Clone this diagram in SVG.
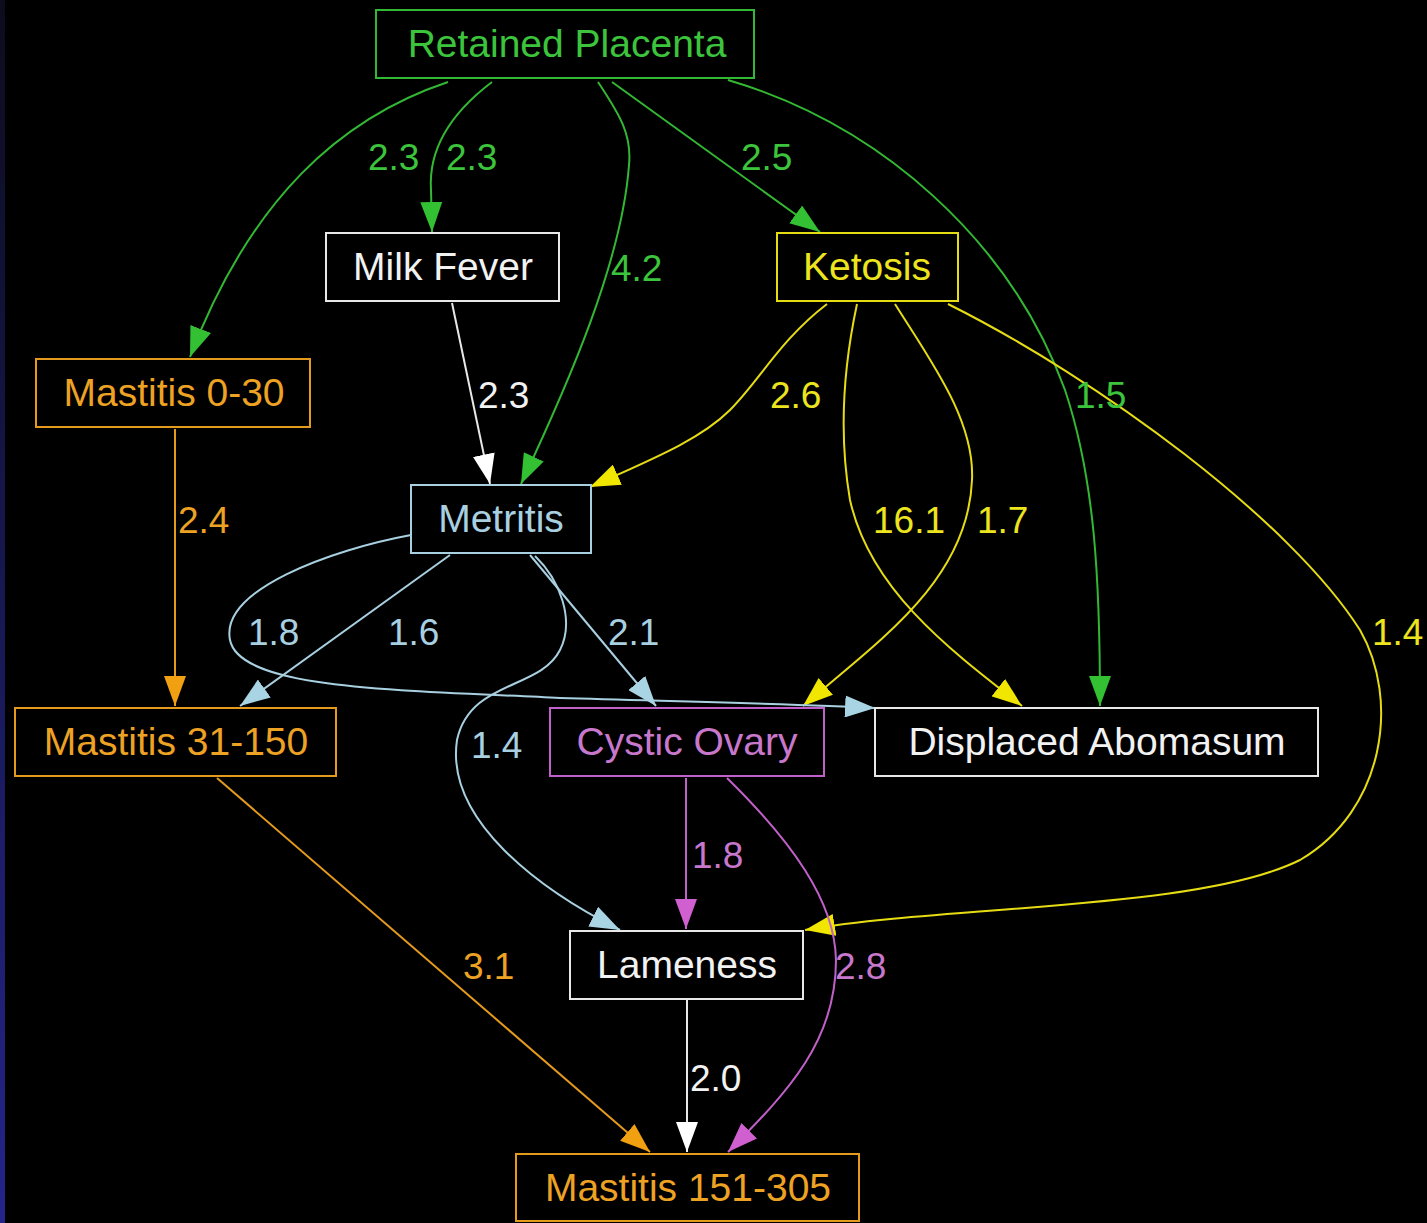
<svg xmlns="http://www.w3.org/2000/svg" width="1427" height="1223" viewBox="0 0 1427 1223">
<defs>
<linearGradient id="strip" x1="0" y1="0" x2="0" y2="1">
<stop offset="0" stop-color="#0c0c1e"/>
<stop offset="1" stop-color="#24248a"/>
</linearGradient>
<marker id="aG" markerUnits="userSpaceOnUse" markerWidth="32" markerHeight="22" refX="30" refY="11" orient="auto"><path d="M0,0 L30,11 L0,22 z" fill="#33c033"/></marker>
<marker id="aY" markerUnits="userSpaceOnUse" markerWidth="32" markerHeight="22" refX="30" refY="11" orient="auto"><path d="M0,0 L30,11 L0,22 z" fill="#f0e600"/></marker>
<marker id="aW" markerUnits="userSpaceOnUse" markerWidth="32" markerHeight="22" refX="30" refY="11" orient="auto"><path d="M0,0 L30,11 L0,22 z" fill="#ffffff"/></marker>
<marker id="aB" markerUnits="userSpaceOnUse" markerWidth="32" markerHeight="22" refX="30" refY="11" orient="auto"><path d="M0,0 L30,11 L0,22 z" fill="#a8d4e4"/></marker>
<marker id="aO" markerUnits="userSpaceOnUse" markerWidth="32" markerHeight="22" refX="30" refY="11" orient="auto"><path d="M0,0 L30,11 L0,22 z" fill="#f0a010"/></marker>
<marker id="aP" markerUnits="userSpaceOnUse" markerWidth="32" markerHeight="22" refX="30" refY="11" orient="auto"><path d="M0,0 L30,11 L0,22 z" fill="#d060d0"/></marker>
</defs>
<style>
text{font-family:"Liberation Sans",Arial,sans-serif}
.n{font-size:39px;text-anchor:middle}
.l{font-size:37px}
rect{fill:#000;stroke-width:2}
.e path{fill:none;stroke-width:2}
.g{stroke:#33b833}.gt{fill:#3cc43c}
.y{stroke:#e6dc14}.yt{fill:#ece41e}
.w{stroke:#e8e8e8}.wt{fill:#f2f2f2}
.b{stroke:#a8d0e0}.bt{fill:#a8d0e0}
.o{stroke:#e49a1c}.ot{fill:#eda224}
.p{stroke:#c060c8}.pt{fill:#c878cc}
</style>
<rect x="0" y="0" width="1427" height="1223" style="fill:#000;stroke:none"/>
<rect x="0" y="0" width="5" height="1223" style="fill:url(#strip);stroke:none"/>

<g id="connectors" class="e">
<path class="g" d="M448,82 C340,118 250,200 190,357" marker-end="url(#aG)"/>
<path class="g" d="M492,82 C455,110 428,145 431,190 L432,232" marker-end="url(#aG)"/>
<path class="g" d="M598,82 C620,115 632,135 629,165 C622,260 570,380 521,484" marker-end="url(#aG)"/>
<path class="g" d="M612,82 L820,232" marker-end="url(#aG)"/>
<path class="g" d="M728,80 C880,125 1010,240 1065,390 C1095,480 1100,580 1100,706" marker-end="url(#aG)"/>
<path class="w" d="M452,303 L490,484" marker-end="url(#aW)"/>
<path class="y" d="M827,304 C780,340 760,380 730,410 C700,440 650,460 590,487" marker-end="url(#aY)"/>
<path class="y" d="M857,304 C845,360 838,430 850,500 C870,590 950,650 1022,706" marker-end="url(#aY)"/>
<path class="y" d="M895,304 C930,360 975,420 972,480 C968,580 880,640 803,706" marker-end="url(#aY)"/>
<path class="y" d="M948,304 C1100,380 1290,520 1360,630 C1400,700 1385,810 1300,860 C1200,910 950,905 805,930" marker-end="url(#aY)"/>
<path class="b" d="M450,555 L240,706" marker-end="url(#aB)"/>
<path class="b" d="M411,535 C330,550 220,590 230,640 C240,690 400,690 560,698 C700,702 800,704 875,708" marker-end="url(#aB)"/>
<path class="b" d="M530,555 L656,706" marker-end="url(#aB)"/>
<path class="b" d="M535,556 C560,580 575,620 560,650 C540,690 470,680 457,740 C445,820 540,890 620,930" marker-end="url(#aB)"/>
<path class="o" d="M175,429 L175,706" marker-end="url(#aO)"/>
<path class="o" d="M217,778 L650,1152" marker-end="url(#aO)"/>
<path class="p" d="M686,778 L686,929" marker-end="url(#aP)"/>
<path class="p" d="M727,778 C790,840 835,900 836,960 C836,1040 790,1090 728,1152" marker-end="url(#aP)"/>
<path class="w" d="M687,1000 L687,1152" marker-end="url(#aW)"/>
</g>

<g id="edge-labels">
<text class="l gt" x="368" y="170">2.3</text>
<text class="l gt" x="446" y="170">2.3</text>
<text class="l gt" x="741" y="170">2.5</text>
<text class="l gt" x="611" y="281">4.2</text>
<text class="l gt" x="1075" y="408">1.5</text>
<text class="l wt" x="478" y="408">2.3</text>
<text class="l yt" x="770" y="408">2.6</text>
<text class="l ot" x="178" y="533">2.4</text>
<text class="l yt" x="873" y="533">16.1</text>
<text class="l yt" x="977" y="533">1.7</text>
<text class="l bt" x="248" y="645">1.8</text>
<text class="l bt" x="388" y="645">1.6</text>
<text class="l bt" x="608" y="645">2.1</text>
<text class="l yt" x="1372" y="645">1.4</text>
<text class="l bt" x="471" y="758">1.4</text>
<text class="l pt" x="692" y="868">1.8</text>
<text class="l ot" x="463" y="979">3.1</text>
<text class="l pt" x="835" y="979">2.8</text>
<text class="l wt" x="690" y="1091">2.0</text>
</g>

<g id="retained-placenta"><rect class="g" x="376" y="10" width="378" height="68"/><text class="n gt" x="567" y="57">Retained Placenta</text></g>
<g id="milk-fever"><rect class="w" x="326" y="233" width="233" height="68"/><text class="n wt" x="443" y="280">Milk Fever</text></g>
<g id="ketosis"><rect class="y" x="777" y="233" width="181" height="68"/><text class="n yt" x="867" y="280">Ketosis</text></g>
<g id="mastitis-0-30"><rect class="o" x="36" y="359" width="274" height="68"/><text class="n ot" x="174" y="406">Mastitis 0-30</text></g>
<g id="metritis"><rect class="b" x="411" y="485" width="180" height="68"/><text class="n bt" x="501" y="532">Metritis</text></g>
<g id="mastitis-31-150"><rect class="o" x="15" y="708" width="321" height="68"/><text class="n ot" x="176" y="755">Mastitis 31-150</text></g>
<g id="cystic-ovary"><rect class="p" x="550" y="708" width="274" height="68"/><text class="n pt" x="687" y="755">Cystic Ovary</text></g>
<g id="displaced-abomasum"><rect class="w" x="875" y="708" width="443" height="68"/><text class="n wt" x="1097" y="755">Displaced Abomasum</text></g>
<g id="lameness"><rect class="w" x="570" y="931" width="233" height="68"/><text class="n wt" x="687" y="978">Lameness</text></g>
<g id="mastitis-151-305"><rect class="o" x="516" y="1154" width="343" height="67"/><text class="n ot" x="688" y="1201">Mastitis 151-305</text></g>
</svg>
